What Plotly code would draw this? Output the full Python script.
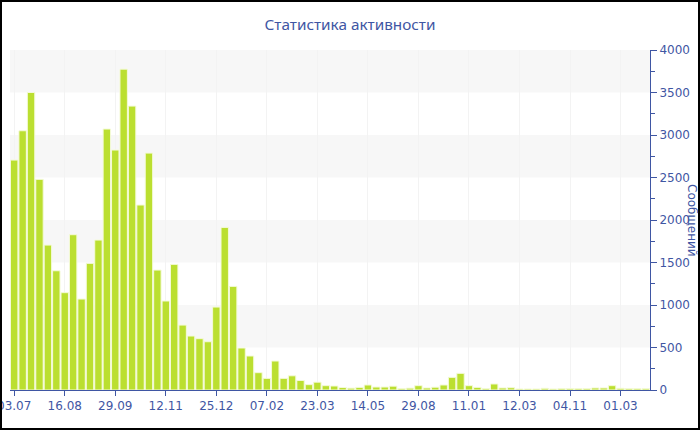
import plotly.graph_objects as go

dates = [
    "03.07", "10.07", "17.07", "24.07", "31.07", "07.08",
    "16.08", "23.08", "30.08", "06.09", "13.09", "20.09",
    "29.09", "06.10", "13.10", "20.10", "27.10", "03.11",
    "12.11", "19.11", "26.11", "03.12", "10.12", "17.12",
    "25.12", "01.01", "08.01", "15.01", "22.01", "29.01",
    "07.02", "14.02", "21.02", "28.02", "07.03", "14.03",
    "23.03", "31.03", "09.04", "17.04", "25.04", "04.05",
    "14.05", "01.06", "20.06", "08.07", "26.07", "10.08",
    "29.08", "24.09", "20.10", "15.11", "05.12", "22.12",
    "11.01", "18.01", "25.01", "01.02", "15.02", "26.02",
    "12.03", "09.04", "14.05", "18.06", "23.07", "17.09",
    "04.11", "25.11", "16.12", "06.01", "27.01", "10.02",
    "01.03", "15.03", "29.03", "12.04",
]

messages = [
    2705, 3050, 3500, 2478, 1705, 1403, 1145, 1827, 1070, 1490,
    1764, 3070, 2823, 3775, 3340, 2176, 2787, 1411, 1047, 1478,
    764, 635, 604, 568, 976, 1913, 1219, 494, 400, 204,
    137, 341, 137, 167, 112, 63, 92, 51, 47, 29,
    22, 31, 59, 35, 35, 45, 16, 22, 51, 24,
    33, 59, 149, 196, 51, 31, 16, 71, 24, 27,
    12, 12, 12, 20, 12, 16, 16, 16, 16, 24,
    24, 51, 20, 16, 16, 16,
]

tick_step = 6
title_text = "Статистика активности"
y_title = "Сообщений"

blue = "#3F56A3"
x_idx = list(range(len(dates)))

fig = go.Figure()
fig.add_trace(go.Bar(
    x=x_idx, y=messages,
    marker=dict(color="#BBDF30", line=dict(color="#F4FAD8", width=1)),
    hoverinfo="y",
))

shapes = []
for lo in (500, 1500, 2500, 3500):
    shapes.append(dict(type="rect", xref="paper", yref="y", x0=0, x1=1,
                       y0=lo, y1=lo + 500, fillcolor="#F7F7F7",
                       line=dict(width=0), layer="below"))
# outer border of the chart
L, T, W, H = 10, 50, 640, 340
shapes.append(dict(type="rect", xref="paper", yref="paper",
                   x0=(1 - L) / W, x1=(699 - L) / W,
                   y0=(T + H - 429) / H, y1=(T + H - 1) / H,
                   line=dict(color="black", width=2), fillcolor="rgba(0,0,0,0)"))

fig.update_layout(
    width=700, height=430,
    margin=dict(l=L, r=700 - L - W, t=T, b=430 - T - H, autoexpand=False),
    paper_bgcolor="white", plot_bgcolor="rgba(0,0,0,0)",
    font=dict(family="DejaVu Sans, Verdana, sans-serif", color=blue, size=12),
    title=dict(text=title_text, x=0.5, xanchor="center", y=1 - 25 / 430,
               yanchor="middle",
               font=dict(family="Noto Sans, sans-serif", size=15.3, color=blue)),
    bargap=0.12,
    showlegend=False,
    shapes=shapes,
    xaxis=dict(
        range=[-0.5, len(dates) - 0.5],
        tickvals=x_idx[::tick_step], ticktext=dates[::tick_step],
        ticks="outside", ticklen=5, tickcolor=blue,
        showline=True, linecolor=blue, linewidth=1,
        showgrid=True, gridcolor="#F3F3F3", gridwidth=1,
        zeroline=False, tickfont=dict(size=12, color=blue),
        ticklabeloverflow="allow",
    ),
    yaxis=dict(
        side="right", range=[0, 4000], dtick=500, tick0=0,
        ticks="outside", ticklen=6, tickcolor=blue,
        minor=dict(dtick=250, ticks="outside", ticklen=4, tickcolor=blue, showgrid=False),
        showline=True, linecolor=blue, linewidth=1,
        showgrid=False, zeroline=False,
        tickfont=dict(size=12, color=blue),
        ticklabeloverflow="allow",
    ),
    annotations=[dict(
        text=y_title, xref="paper", yref="paper",
        x=(692 - L) / W, y=0.5, xanchor="center", yanchor="middle",
        textangle=90, showarrow=False, font=dict(size=12, color=blue),
    )],
)

fig.write_html("out.html", config={"displayModeBar": False},
               post_script="document.body.style.margin='0';document.body.style.padding='0';")
